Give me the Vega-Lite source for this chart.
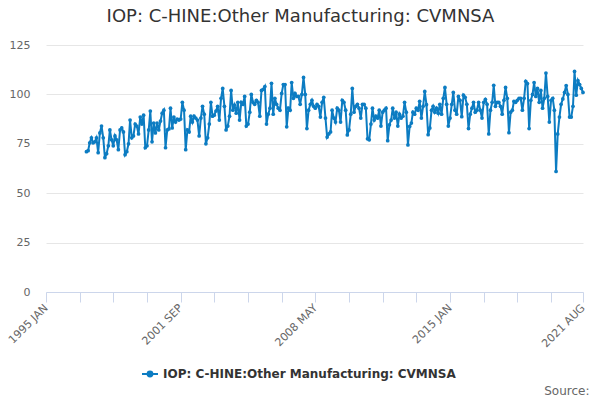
{
  "$schema": "https://vega.github.io/schema/vega-lite/v6.json",
  "width": 537,
  "height": 247,
  "autosize": "none",
  "padding": {"left": 46, "top": 45, "right": 17, "bottom": 108},
  "background": "white",
  "title": {
    "text": "IOP: C-HINE:Other Manufacturing: CVMNSA",
    "font": "DejaVu Sans",
    "fontSize": 18,
    "fontWeight": "normal",
    "color": "#333333",
    "anchor": "middle",
    "dx": -14,
    "offset": 13
  },
  "data": {
    "values": [
      {"date": "1997-01", "value": 71}, {"date": "1997-02", "value": 71.5}, {"date": "1997-03", "value": 75.5}, {"date": "1997-04", "value": 78}, {"date": "1997-05", "value": 75.5}, {"date": "1997-06", "value": 76}, {"date": "1997-07", "value": 78}, {"date": "1997-08", "value": 70.5}, {"date": "1997-09", "value": 80.5}, {"date": "1997-10", "value": 84}, {"date": "1997-11", "value": 78}, {"date": "1997-12", "value": 68},
      {"date": "1998-01", "value": 70}, {"date": "1998-02", "value": 74}, {"date": "1998-03", "value": 82}, {"date": "1998-04", "value": 77}, {"date": "1998-05", "value": 74}, {"date": "1998-06", "value": 79}, {"date": "1998-07", "value": 77}, {"date": "1998-08", "value": 72}, {"date": "1998-09", "value": 82}, {"date": "1998-10", "value": 83}, {"date": "1998-11", "value": 81}, {"date": "1998-12", "value": 69.5},
      {"date": "1999-01", "value": 71}, {"date": "1999-02", "value": 75}, {"date": "1999-03", "value": 87}, {"date": "1999-04", "value": 78}, {"date": "1999-05", "value": 79}, {"date": "1999-06", "value": 85}, {"date": "1999-07", "value": 84}, {"date": "1999-08", "value": 80}, {"date": "1999-09", "value": 88.5}, {"date": "1999-10", "value": 85}, {"date": "1999-11", "value": 89.5}, {"date": "1999-12", "value": 73},
      {"date": "2000-01", "value": 74}, {"date": "2000-02", "value": 82}, {"date": "2000-03", "value": 91.6}, {"date": "2000-04", "value": 76}, {"date": "2000-05", "value": 85.5}, {"date": "2000-06", "value": 80.5}, {"date": "2000-07", "value": 85.5}, {"date": "2000-08", "value": 82}, {"date": "2000-09", "value": 86.5}, {"date": "2000-10", "value": 90.5}, {"date": "2000-11", "value": 92}, {"date": "2000-12", "value": 73},
      {"date": "2001-01", "value": 82}, {"date": "2001-02", "value": 82.5}, {"date": "2001-03", "value": 93}, {"date": "2001-04", "value": 83}, {"date": "2001-05", "value": 88.5}, {"date": "2001-06", "value": 86}, {"date": "2001-07", "value": 87.5}, {"date": "2001-08", "value": 87}, {"date": "2001-09", "value": 87.5}, {"date": "2001-10", "value": 96}, {"date": "2001-11", "value": 92}, {"date": "2001-12", "value": 72},
      {"date": "2002-01", "value": 82}, {"date": "2002-02", "value": 81}, {"date": "2002-03", "value": 89}, {"date": "2002-04", "value": 86}, {"date": "2002-05", "value": 89}, {"date": "2002-06", "value": 88}, {"date": "2002-07", "value": 87}, {"date": "2002-08", "value": 79}, {"date": "2002-09", "value": 88}, {"date": "2002-10", "value": 94}, {"date": "2002-11", "value": 90}, {"date": "2002-12", "value": 75},
      {"date": "2003-01", "value": 78}, {"date": "2003-02", "value": 85}, {"date": "2003-03", "value": 96}, {"date": "2003-04", "value": 89}, {"date": "2003-05", "value": 89.5}, {"date": "2003-06", "value": 91.6}, {"date": "2003-07", "value": 94}, {"date": "2003-08", "value": 87}, {"date": "2003-09", "value": 98}, {"date": "2003-10", "value": 103}, {"date": "2003-11", "value": 94}, {"date": "2003-12", "value": 82},
      {"date": "2004-01", "value": 84}, {"date": "2004-02", "value": 89}, {"date": "2004-03", "value": 102}, {"date": "2004-04", "value": 92}, {"date": "2004-05", "value": 94.6}, {"date": "2004-06", "value": 90.5}, {"date": "2004-07", "value": 96}, {"date": "2004-08", "value": 87}, {"date": "2004-09", "value": 96}, {"date": "2004-10", "value": 95}, {"date": "2004-11", "value": 99}, {"date": "2004-12", "value": 84},
      {"date": "2005-01", "value": 85}, {"date": "2005-02", "value": 91}, {"date": "2005-03", "value": 100}, {"date": "2005-04", "value": 96}, {"date": "2005-05", "value": 95}, {"date": "2005-06", "value": 97}, {"date": "2005-07", "value": 96}, {"date": "2005-08", "value": 89}, {"date": "2005-09", "value": 102}, {"date": "2005-10", "value": 102.5}, {"date": "2005-11", "value": 104}, {"date": "2005-12", "value": 85},
      {"date": "2006-01", "value": 90}, {"date": "2006-02", "value": 93}, {"date": "2006-03", "value": 105.6}, {"date": "2006-04", "value": 90}, {"date": "2006-05", "value": 98}, {"date": "2006-06", "value": 95}, {"date": "2006-07", "value": 93}, {"date": "2006-08", "value": 92}, {"date": "2006-09", "value": 100.5}, {"date": "2006-10", "value": 105}, {"date": "2006-11", "value": 105}, {"date": "2006-12", "value": 83.6},
      {"date": "2007-01", "value": 93}, {"date": "2007-02", "value": 92}, {"date": "2007-03", "value": 106}, {"date": "2007-04", "value": 98}, {"date": "2007-05", "value": 100.5}, {"date": "2007-06", "value": 99}, {"date": "2007-07", "value": 99}, {"date": "2007-08", "value": 95}, {"date": "2007-09", "value": 100}, {"date": "2007-10", "value": 108.6}, {"date": "2007-11", "value": 100}, {"date": "2007-12", "value": 82.7},
      {"date": "2008-01", "value": 92}, {"date": "2008-02", "value": 95}, {"date": "2008-03", "value": 97}, {"date": "2008-04", "value": 94}, {"date": "2008-05", "value": 93}, {"date": "2008-06", "value": 95}, {"date": "2008-07", "value": 94}, {"date": "2008-08", "value": 88.5}, {"date": "2008-09", "value": 96}, {"date": "2008-10", "value": 98.5}, {"date": "2008-11", "value": 88}, {"date": "2008-12", "value": 78.4},
      {"date": "2009-01", "value": 80}, {"date": "2009-02", "value": 81}, {"date": "2009-03", "value": 92}, {"date": "2009-04", "value": 88}, {"date": "2009-05", "value": 86}, {"date": "2009-06", "value": 93}, {"date": "2009-07", "value": 92}, {"date": "2009-08", "value": 86}, {"date": "2009-09", "value": 97}, {"date": "2009-10", "value": 96}, {"date": "2009-11", "value": 92}, {"date": "2009-12", "value": 79.5},
      {"date": "2010-01", "value": 82}, {"date": "2010-02", "value": 90}, {"date": "2010-03", "value": 103}, {"date": "2010-04", "value": 91}, {"date": "2010-05", "value": 94}, {"date": "2010-06", "value": 95}, {"date": "2010-07", "value": 93}, {"date": "2010-08", "value": 88}, {"date": "2010-09", "value": 95}, {"date": "2010-10", "value": 95}, {"date": "2010-11", "value": 93}, {"date": "2010-12", "value": 77.5},
      {"date": "2011-01", "value": 77}, {"date": "2011-02", "value": 85}, {"date": "2011-03", "value": 93}, {"date": "2011-04", "value": 87}, {"date": "2011-05", "value": 89}, {"date": "2011-06", "value": 88}, {"date": "2011-07", "value": 92}, {"date": "2011-08", "value": 84}, {"date": "2011-09", "value": 91}, {"date": "2011-10", "value": 92}, {"date": "2011-11", "value": 93}, {"date": "2011-12", "value": 76.6},
      {"date": "2012-01", "value": 84.6}, {"date": "2012-02", "value": 87}, {"date": "2012-03", "value": 93}, {"date": "2012-04", "value": 88}, {"date": "2012-05", "value": 91}, {"date": "2012-06", "value": 84}, {"date": "2012-07", "value": 90}, {"date": "2012-08", "value": 88}, {"date": "2012-09", "value": 89}, {"date": "2012-10", "value": 96}, {"date": "2012-11", "value": 91}, {"date": "2012-12", "value": 74.4},
      {"date": "2013-01", "value": 83.8}, {"date": "2013-02", "value": 85.5}, {"date": "2013-03", "value": 91}, {"date": "2013-04", "value": 90}, {"date": "2013-05", "value": 93}, {"date": "2013-06", "value": 92}, {"date": "2013-07", "value": 96.5}, {"date": "2013-08", "value": 88}, {"date": "2013-09", "value": 94}, {"date": "2013-10", "value": 101.5}, {"date": "2013-11", "value": 94.8}, {"date": "2013-12", "value": 79.6},
      {"date": "2014-01", "value": 83}, {"date": "2014-02", "value": 92}, {"date": "2014-03", "value": 94}, {"date": "2014-04", "value": 91}, {"date": "2014-05", "value": 93}, {"date": "2014-06", "value": 90.5}, {"date": "2014-07", "value": 95}, {"date": "2014-08", "value": 90}, {"date": "2014-09", "value": 98}, {"date": "2014-10", "value": 103.5}, {"date": "2014-11", "value": 95}, {"date": "2014-12", "value": 84},
      {"date": "2015-01", "value": 88}, {"date": "2015-02", "value": 95}, {"date": "2015-03", "value": 101}, {"date": "2015-04", "value": 92}, {"date": "2015-05", "value": 90}, {"date": "2015-06", "value": 99}, {"date": "2015-07", "value": 97}, {"date": "2015-08", "value": 88.7}, {"date": "2015-09", "value": 99.6}, {"date": "2015-10", "value": 98.5}, {"date": "2015-11", "value": 95}, {"date": "2015-12", "value": 82.7},
      {"date": "2016-01", "value": 90}, {"date": "2016-02", "value": 93}, {"date": "2016-03", "value": 96}, {"date": "2016-04", "value": 91}, {"date": "2016-05", "value": 92}, {"date": "2016-06", "value": 96}, {"date": "2016-07", "value": 92}, {"date": "2016-08", "value": 88}, {"date": "2016-09", "value": 96}, {"date": "2016-10", "value": 97.5}, {"date": "2016-11", "value": 95}, {"date": "2016-12", "value": 80},
      {"date": "2017-01", "value": 92}, {"date": "2017-02", "value": 96}, {"date": "2017-03", "value": 104.6}, {"date": "2017-04", "value": 94}, {"date": "2017-05", "value": 96}, {"date": "2017-06", "value": 96}, {"date": "2017-07", "value": 94}, {"date": "2017-08", "value": 90}, {"date": "2017-09", "value": 97}, {"date": "2017-10", "value": 103.5}, {"date": "2017-11", "value": 98}, {"date": "2017-12", "value": 80.6},
      {"date": "2018-01", "value": 91}, {"date": "2018-02", "value": 92}, {"date": "2018-03", "value": 96.5}, {"date": "2018-04", "value": 96}, {"date": "2018-05", "value": 97}, {"date": "2018-06", "value": 98}, {"date": "2018-07", "value": 98}, {"date": "2018-08", "value": 92}, {"date": "2018-09", "value": 98}, {"date": "2018-10", "value": 106.6}, {"date": "2018-11", "value": 105.5}, {"date": "2018-12", "value": 82.7},
      {"date": "2019-01", "value": 97}, {"date": "2019-02", "value": 100}, {"date": "2019-03", "value": 106}, {"date": "2019-04", "value": 99}, {"date": "2019-05", "value": 103}, {"date": "2019-06", "value": 96}, {"date": "2019-07", "value": 102}, {"date": "2019-08", "value": 93}, {"date": "2019-09", "value": 98}, {"date": "2019-10", "value": 110.8}, {"date": "2019-11", "value": 99}, {"date": "2019-12", "value": 86},
      {"date": "2020-01", "value": 97}, {"date": "2020-02", "value": 98}, {"date": "2020-03", "value": 92}, {"date": "2020-04", "value": 61}, {"date": "2020-05", "value": 80}, {"date": "2020-06", "value": 88.5}, {"date": "2020-07", "value": 95}, {"date": "2020-08", "value": 97.7}, {"date": "2020-09", "value": 101}, {"date": "2020-10", "value": 104.5}, {"date": "2020-11", "value": 100}, {"date": "2020-12", "value": 88.5},
      {"date": "2021-01", "value": 88.5}, {"date": "2021-02", "value": 94}, {"date": "2021-03", "value": 111.6}, {"date": "2021-04", "value": 99.6}, {"date": "2021-05", "value": 107}, {"date": "2021-06", "value": 105}, {"date": "2021-07", "value": 103}, {"date": "2021-08", "value": 101}
    ]
  },
  "mark": {
    "type": "line",
    "strokeWidth": 2,
    "point": {"filled": true, "size": 14}
  },
  "encoding": {
    "x": {
      "field": "date",
      "type": "temporal",
      "scale": {
        "type": "utc",
        "domain": [
          {"year": 1995, "month": 1, "date": 1, "utc": true},
          {"year": 2021, "month": 8, "date": 1, "utc": true}
        ]
      },
      "axis": {
        "title": "Source:",
        "titleFont": "DejaVu Sans",
        "titleFontSize": 12,
        "titleFontWeight": "normal",
        "titleColor": "#666666",
        "titleAnchor": "end",
        "titleAlign": "right",
        "titleBaseline": "alphabetic",
        "titleX": 543,
        "titleY": 102,
        "values": [
          {"year": 1995, "month": 1, "date": 1, "utc": true},
          {"year": 1996, "month": 9, "date": 1, "utc": true},
          {"year": 1998, "month": 5, "date": 1, "utc": true},
          {"year": 2000, "month": 1, "date": 1, "utc": true},
          {"year": 2001, "month": 9, "date": 1, "utc": true},
          {"year": 2003, "month": 5, "date": 1, "utc": true},
          {"year": 2005, "month": 1, "date": 1, "utc": true},
          {"year": 2006, "month": 9, "date": 1, "utc": true},
          {"year": 2008, "month": 5, "date": 1, "utc": true},
          {"year": 2010, "month": 1, "date": 1, "utc": true},
          {"year": 2011, "month": 9, "date": 1, "utc": true},
          {"year": 2013, "month": 5, "date": 1, "utc": true},
          {"year": 2015, "month": 1, "date": 1, "utc": true},
          {"year": 2016, "month": 9, "date": 1, "utc": true},
          {"year": 2018, "month": 5, "date": 1, "utc": true},
          {"year": 2020, "month": 1, "date": 1, "utc": true},
          {"year": 2021, "month": 8, "date": 1, "utc": true}
        ],
        "labelExpr": "indexof(['1995 JAN', '2001 SEP', '2008 MAY', '2015 JAN', '2021 AUG'], upper(utcFormat(datum.value, '%Y %b'))) >= 0 ? upper(utcFormat(datum.value, '%Y %b')) : ''",
        "labelAngle": -45,
        "labelAlign": "right",
        "labelBaseline": "middle",
        "labelPadding": 4,
        "labelOverlap": false,
        "labelFlush": false,
        "labelBound": false,
        "labelFont": "DejaVu Sans",
        "labelFontSize": 11,
        "labelColor": "#666666",
        "tickColor": "#ccd6eb",
        "tickSize": 10,
        "domainColor": "#ccd6eb",
        "grid": false
      }
    },
    "y": {
      "field": "value",
      "type": "quantitative",
      "scale": {"domain": [0, 125]},
      "axis": {
        "title": null,
        "values": [0, 25, 50, 75, 100, 125],
        "grid": true,
        "gridColor": "#e6e6e6",
        "domain": false,
        "ticks": false,
        "labelPadding": 16,
        "labelFont": "DejaVu Sans",
        "labelFontSize": 11,
        "labelColor": "#666666"
      }
    },
    "color": {
      "datum": "IOP: C-HINE:Other Manufacturing: CVMNSA",
      "scale": {"range": ["#0c7cc2"]},
      "legend": {
        "title": null,
        "orient": "none",
        "legendX": 95,
        "legendY": 320,
        "direction": "horizontal",
        "labelFont": "DejaVu Sans",
        "labelFontSize": 12,
        "labelFontWeight": "bold",
        "labelColor": "#333333",
        "labelLimit": 0,
        "symbolType": "M-1,0L1,0M-0.3,0A0.3,0.3 0 1,0 0.3,0A0.3,0.3 0 1,0 -0.3,0",
        "symbolSize": 256,
        "symbolStrokeWidth": 2,
        "symbolStrokeColor": "#0c7cc2",
        "symbolFillColor": "#0c7cc2"
      }
    }
  },
  "config": {
    "view": {"stroke": null}
  }
}
